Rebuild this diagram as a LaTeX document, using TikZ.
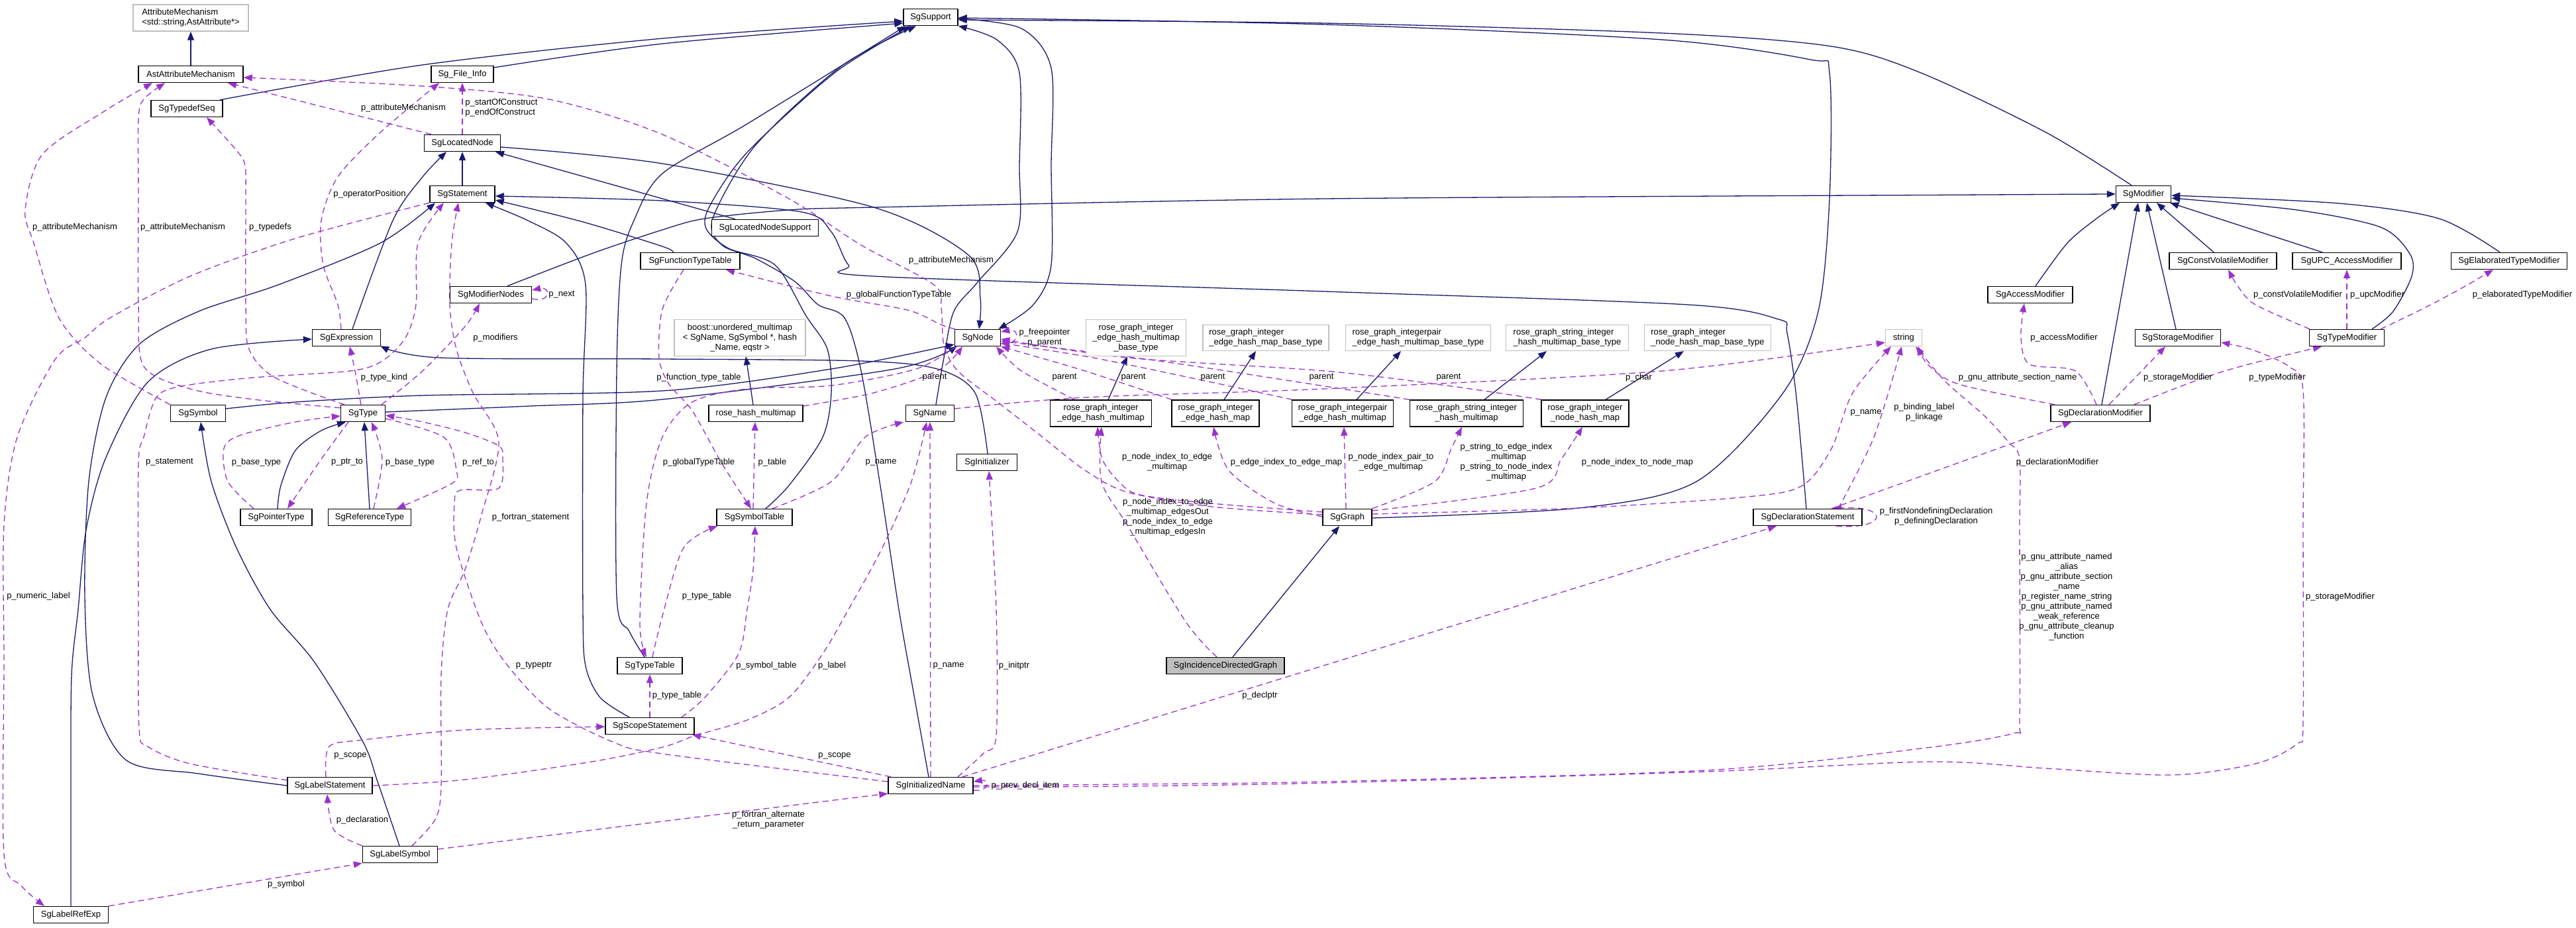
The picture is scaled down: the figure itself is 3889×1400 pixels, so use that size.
\documentclass[tikz,border=0pt]{standalone}
\usepackage{fontspec}
\setmainfont{Liberation Sans}
\usetikzlibrary{arrows.meta}
\definecolor{navyc}{HTML}{191970}
\definecolor{purp}{HTML}{9A32CD}
\definecolor{gborder}{HTML}{BFBFBF}
\newcommand\dxf{\fontsize{13}{15}\selectfont}
\pgfdeclarelayer{bg}
\pgfsetlayers{bg,main}
\begin{document}
\begin{tikzpicture}[x=1pt,y=-1pt,
  cls/.style={draw=black, line width=1.4pt, fill=white, inner sep=0pt, minimum height=25pt, font=\dxf, align=center},
  gcls/.style={cls, draw=gborder, line width=1.2pt},
  inh/.style={draw=navyc, line width=1.3pt, -{Triangle[length=13pt,width=10pt]}},
  use/.style={draw=purp, line width=1.3pt, dash pattern=on 9pt off 6pt, -{Triangle[length=13pt,width=10pt]}},
  lab/.style={font=\dxf, inner sep=0pt, align=center},
]
\useasboundingbox (0,0) rectangle (3889,1400);
% ---------------- nodes ----------------
\node[gcls, minimum width=174pt, minimum height=40pt, align=left] (am) at (288,27) {AttributeMechanism\\<std::string,AstAttribute*>};
\node[cls, minimum width=82pt] (sup) at (1405,26) {SgSupport};
\node[cls, minimum width=158pt] (aam) at (288,112) {AstAttributeMechanism};
\node[cls, minimum width=94pt] (sfi) at (698,112) {Sg\_File\_Info};
\node[cls, minimum width=108pt] (tds) at (282,164) {SgTypedefSeq};
\node[cls, minimum width=115pt] (ln) at (698,216) {SgLocatedNode};
\node[cls, minimum width=98pt] (stmt) at (698,293) {SgStatement};
\node[cls, minimum width=83pt] (mod) at (3236,293) {SgModifier};
\node[cls, minimum width=161pt] (lns) at (1155,344) {SgLocatedNodeSupport};
\node[cls, minimum width=150pt] (ftt) at (1042,394) {SgFunctionTypeTable};
\node[cls, minimum width=162pt] (cvm) at (3356,394) {SgConstVolatileModifier};
\node[cls, minimum width=164pt] (upc) at (3543,394) {SgUPC\_AccessModifier};
\node[cls, minimum width=175pt] (etm) at (3788,394) {SgElaboratedTypeModifier};
\node[cls, minimum width=123pt] (mn) at (741,445) {SgModifierNodes};
\node[cls, minimum width=128pt] (acc) at (3065,445) {SgAccessModifier};
\node[gcls, minimum width=198pt, minimum height=55pt] (boost) at (1117,510) {boost::unordered\_multimap\\< SgName, SgSymbol *, hash\\\_Name, eqstr >};
\node[gcls, minimum width=151pt, minimum height=55pt] (rb1) at (1715,510) {rose\_graph\_integer\\\_edge\_hash\_multimap\\\_base\_type};
\node[gcls, minimum width=190pt, minimum height=39pt, align=left] (rb2) at (1911,510) {rose\_graph\_integer\\\_edge\_hash\_map\_base\_type};
\node[gcls, minimum width=219pt, minimum height=39pt, align=left] (rb3) at (2141,510) {rose\_graph\_integerpair\\\_edge\_hash\_multimap\_base\_type};
\node[gcls, minimum width=185pt, minimum height=39pt, align=left] (rb4) at (2366,510) {rose\_graph\_string\_integer\\\_hash\_multimap\_base\_type};
\node[gcls, minimum width=191pt, minimum height=39pt, align=left] (rb5) at (2578,510) {rose\_graph\_integer\\\_node\_hash\_map\_base\_type};
\node[cls, minimum width=103pt] (expr) at (523,510) {SgExpression};
\node[cls, minimum width=69pt] (sgn) at (1476,510) {SgNode};
\node[gcls, minimum width=55pt] (str) at (2874,510) {string};
\node[cls, minimum width=129pt] (stor) at (3288,510) {SgStorageModifier};
\node[cls, minimum width=113pt] (tmod) at (3543,510) {SgTypeModifier};
\node[cls, minimum width=83pt] (sym) at (299,624) {SgSymbol};
\node[cls, minimum width=67pt] (typ) at (548,624) {SgType};
\node[cls, minimum width=142pt] (rhm) at (1141,624) {rose\_hash\_multimap};
\node[cls, minimum width=73pt] (nm) at (1404,624) {SgName};
\node[cls, minimum width=153pt, minimum height=40pt] (r1) at (1662,624) {rose\_graph\_integer\\\_edge\_hash\_multimap};
\node[cls, minimum width=132pt, minimum height=40pt] (r2) at (1835,624) {rose\_graph\_integer\\\_edge\_hash\_map};
\node[cls, minimum width=153pt, minimum height=40pt] (r3) at (2027,624) {rose\_graph\_integerpair\\\_edge\_hash\_multimap};
\node[cls, minimum width=171pt, minimum height=40pt] (r4) at (2214,624) {rose\_graph\_string\_integer\\\_hash\_multimap};
\node[cls, minimum width=132pt, minimum height=40pt] (r5) at (2393,624) {rose\_graph\_integer\\\_node\_hash\_map};
\node[cls, minimum width=150pt] (dmod) at (3171,624) {SgDeclarationModifier};
\node[cls, minimum width=91pt] (init) at (1490,698) {SgInitializer};
\node[cls, minimum width=108pt] (ptr) at (417,781) {SgPointerType};
\node[cls, minimum width=125pt] (ref) at (558,781) {SgReferenceType};
\node[cls, minimum width=114pt] (symt) at (1139,781) {SgSymbolTable};
\node[cls, minimum width=74pt] (graph) at (2034,781) {SgGraph};
\node[cls, minimum width=164pt] (ds) at (2729,781) {SgDeclarationStatement};
\node[cls, minimum width=98pt] (tt) at (981,1005) {SgTypeTable};
\node[cls, minimum width=178pt, fill=gborder] (idg) at (1850,1005) {SgIncidenceDirectedGraph};
\node[cls, minimum width=134pt] (ss) at (981,1096) {SgScopeStatement};
\node[cls, minimum width=128pt] (ls) at (498,1186) {SgLabelStatement};
\node[cls, minimum width=128pt] (iname) at (1405,1186) {SgInitializedName};
\node[cls, minimum width=113pt] (lsym) at (604,1290) {SgLabelSymbol};
\node[cls, minimum width=113pt] (lre) at (107,1381) {SgLabelRefExp};
% ---------------- edges ----------------
\begin{pgfonlayer}{bg}
\fill[white] (0,0) rectangle (3889,1400);
% inheritance
\draw[inh] (aam.north) -- (am.south);
\draw[inh] plot[smooth] coordinates {([xshift=50pt]tds.north) (638,98) (1000,58) ([yshift=-6pt]sup.west)};
\draw[inh] plot[smooth] coordinates {([yshift=10pt]sfi.east) (1000,66) ([yshift=-9pt]sup.west)};
\draw[inh] plot[smooth] coordinates {([yshift=-6pt]ln.east) (1000,247) (1319,313) (1462,385) (1480,450) ([xshift=2pt]sgn.north)};
\draw[inh] (stmt.north) -- (ln.south);
\draw[inh] plot[smooth] coordinates {([xshift=9pt]expr.north) (593,333) (638,267) ([xshift=-24pt]ln.south)};
\draw[inh] ([xshift=-45pt]lns.north) -- ([xshift=50pt]ln.south);
\draw[inh] plot[smooth] coordinates {([xshift=-31pt]ss.north) (906,1053) (884,1005) (880,920) (880,600) (884,430) (855,367) (797,333) ([xshift=35pt]stmt.south)};
\draw[inh] plot[smooth] coordinates {(ls.west) (300,1168) (191,1148) (140,1050) (128,900) (134,727) (160,600) (210,520) (300,470) (420,430) (574,367) ([xshift=-41pt]stmt.south)};
\draw[inh] plot[smooth] coordinates {([xshift=-2pt]ds.north) (2712,600) (2698,503) (2685,482) (2548,460) (2000,440) (1319,417) (1281,400) (1255,350) (1210,320) (1000,303) ([yshift=-3pt]stmt.east)};
\draw[inh] plot[smooth] coordinates {([yshift=7pt]sym.east) (446,607) (638,597) (1000,590) (1255,557) ([yshift=-10pt]sgn.west)};
\draw[inh] plot[smooth] coordinates {([yshift=2pt]typ.east) (800,613) (1000,603) (1351,557) ([xshift=4pt,yshift=1pt]sgn.south west)};
\draw[inh] plot[smooth] coordinates {([xshift=2pt]ptr.north) (424,733) (446,680) (485,650) ([xshift=-26pt]typ.south)};
\draw[inh] (ref.north) -- ([xshift=2pt]typ.south);
\draw[inh] plot[smooth] coordinates {([xshift=17pt]symt.north) (1191,733) (1242,660) (1255,593) (1249,527) (1217,477) (1170,400) (1100,375) (1066,345) (1072,310) (1128,230) (1260,110) ([xshift=-30pt]sup.south)};
\draw[inh] plot[smooth] coordinates {([xshift=-3pt]iname.north) (1380,1050) (1357,920) (1330,740) (1300,560) (1275,480) (1235,460) (1200,425) (1140,390) (1090,370) (1076,330) (1140,220) (1270,100) ([xshift=-22pt]sup.south)};
\draw[inh] plot[smooth] coordinates {([xshift=-8pt]tt.north) (950,953) (931,900) (931,560) (938,400) (957,333) (1000,262) (1128,187) ([xshift=4pt]sup.south west)};
\draw[inh] plot[smooth] coordinates {([xshift=9pt]nm.north) (1425,540) (1440,470) (1475,427) (1536,350) (1539,250) (1539,110) (1505,60) (sup.south east)};
\draw[inh] plot[smooth] coordinates {([yshift=-2pt]sup.east) (1542,43) (1587,103) (1587,250) (1587,400) (1560,460) ([xshift=-4pt]sgn.north east)};
\draw[inh] plot[smooth] coordinates {([yshift=-1pt]graph.east) (2383,767) (2561,727) (2692,593) (2745,470) (2762,300) (2762,110) (2733,90) (2510,60) (2000,37) ([yshift=-1pt]sup.east)};
\draw[inh] plot[smooth] coordinates {([xshift=-18pt]mod.north) (3089,200) (2900,110) (2765,70) (2510,50) (2000,35) ([yshift=-4pt]sup.east)};
\draw[inh] plot[smooth] coordinates {([xshift=25pt]mn.north) (893,383) (1000,347) (1064,330) (1191,317) (1319,313) (2000,300) (3000,294) (mod.west)};
\draw[inh] plot[smooth] coordinates {(lre.north) (107,1200) (108,1020) (118,920) (130,800) (159,693) (223,577) (319,527) ([yshift=-2pt]expr.west)};
\draw[inh] plot[smooth] coordinates {([xshift=1pt]init.north) (1472,593) (1415,557) (1300,545) (1000,542) (663,540) ([xshift=-1pt,yshift=1pt]expr.south east)};
\draw[inh] plot[smooth] coordinates {([xshift=-1pt]lsym.north) (570,1180) (548,1120) (475,1000) (408,920) (357,827) (319,727) ([xshift=4pt]sym.south)};
\draw[inh] ([xshift=-4pt]rhm.north) -- ([xshift=9pt]boost.south);
\draw[inh] ([xshift=11pt]r1.north) -- ([xshift=-13pt]rb1.south);
\draw[inh] ([xshift=13pt]r2.north) -- ([xshift=-15pt]rb2.south);
\draw[inh] ([xshift=21pt]r3.north) -- ([xshift=-26pt]rb3.south);
\draw[inh] ([xshift=27pt]r4.north) -- ([xshift=-31pt]rb4.south);
\draw[inh] ([xshift=31pt]r5.north) -- ([xshift=-36pt]rb5.south);
\draw[inh] ([xshift=11pt]idg.north) -- ([xshift=-12pt]graph.south);
\draw[inh] plot[smooth] coordinates {([xshift=8pt]acc.north) (3121,367) (3165,330) ([xshift=-36pt]mod.south)};
\draw[inh] ([xshift=2pt]dmod.north) -- ([xshift=-8pt]mod.south);
\draw[inh] ([xshift=-3pt]stor.north) -- ([xshift=5pt]mod.south);
\draw[inh] ([xshift=-14pt]cvm.north) -- ([xshift=20pt]mod.south);
\draw[inh] ([xshift=-37pt]upc.north) -- ([xshift=-2pt]mod.south east);
\draw[inh] plot[smooth] coordinates {([xshift=38pt]tmod.north) (3613,470) (3641,417) (3638,383) (3594,343) (3468,317) ([yshift=-6pt]mod.east)};
\draw[inh] plot[smooth] coordinates {([xshift=-14pt]etm.north) (3682,330) (3531,307) ([yshift=-2pt]mod.east)};
\draw[inh] plot[smooth] coordinates {([xshift=-26pt]ftt.north) (1000,372) (880,335) ([yshift=-9pt]stmt.east)};
% usage (dashed)
\draw[use] plot[smooth] coordinates {([xshift=-47pt]ln.north) (510,167) ([xshift=56pt]aam.south)};
\draw[use] plot[smooth] coordinates {([yshift=4pt]graph.west) (1830,765) (1702,743) (1638,710) (1574,660) (1510,610) (1446,560) (1425,520) (1421,465) (1410,430) (1300,370) (1191,300) (1000,203) (829,150) (638,130) ([yshift=-5pt]aam.east)};
\draw[use] plot[smooth] coordinates {(sym.north west) (153,550) (89,480) (51,367) (38,317) (64,233) (159,167) ([xshift=-58pt]aam.south)};
\draw[use] plot[smooth] coordinates {([yshift=-5pt]typ.north west) (383,603) (287,587) (217,553) (209,460) (209,300) (209,180) (217,150) ([xshift=-39pt]aam.south)};
\draw[use] plot[smooth] coordinates {([xshift=-28pt]typ.north) (415,570) (376,527) (371,460) (371,300) (370,250) (357,227) ([xshift=30pt]tds.south)};
\draw[use] plot[smooth] coordinates {([xshift=-8pt]expr.north) (510,460) (488,400) (485,333) (510,267) (574,200) ([xshift=-35pt]sfi.south)};
\draw[use] (ln.north) -- (sfi.south);
\draw[use] plot[smooth] coordinates {([xshift=-3pt]typ.north) (536,560) ([xshift=5pt]expr.south)};
\draw[use] plot[smooth] coordinates {([xshift=28pt]typ.north) (638,560) (702,493) ([xshift=-17pt]mn.south)};
\draw[use] ([yshift=-6pt]mn.east) .. controls (832,458) and (832,432) .. ([yshift=7pt]mn.east);
\draw[use] plot[smooth] coordinates {([yshift=-5pt]ls.north west) (287,1153) (223,1127) (210,1100) (209,920) (209,700) (217,660) (236,600) (274,583) (383,570) (529,560) (577,545) (612,510) (628,460) (631,367) ([xshift=-28pt]stmt.south)};
\draw[use] plot[smooth] coordinates {([xshift=18pt]lsym.north) (657,1237) (666,1187) (666,1020) (676,920) (702,860) (727,777) (753,667) (714,593) (689,527) (679,460) (682,367) ([xshift=-6pt]stmt.south)};
\draw[use] plot[smooth] coordinates {(stmt.south west) (446,360) (287,417) (166,480) (128,510) (83,543) (26,660) (6,793) (6,1000) (6,1290) (32,1337) ([xshift=-40pt]lre.north)};
\draw[use] plot[smooth] coordinates {([xshift=-34pt]ptr.north) (344,727) (338,677) (363,657) (446,637) ([yshift=-4pt]typ.west)};
\draw[use] plot[smooth] coordinates {([xshift=-22pt]typ.south) (485,693) ([xshift=17pt]ptr.north)};
\draw[use] plot[smooth] coordinates {([xshift=6pt]ref.north) (577,693) ([xshift=13pt]typ.south)};
\draw[use] plot[smooth] coordinates {([yshift=-8pt]typ.east) (670,660) (689,710) (682,730) ([xshift=41pt]ref.north)};
\draw[use] plot[smooth] coordinates {([yshift=6pt]iname.west) (1000,1138) (925,1120) (829,1070) (765,1003) (727,940) (689,827) (686,760) (695,740) (753,737) (759,693) (753,673) (702,653) (638,637) ([yshift=-3pt]typ.east)};
\draw[use] ([xshift=-2pt]symt.north) -- ([xshift=-1pt]rhm.south);
\draw[use] plot[smooth] coordinates {([xshift=27pt]symt.north) (1255,727) (1306,660) ([xshift=-40pt]nm.south)};
\draw[use] plot[smooth] coordinates {([yshift=11pt]rhm.east) (1319,593) (1415,560) ([xshift=-23pt]sgn.south)};
\draw[use] plot[smooth] coordinates {([xshift=-40pt]r1.north) (1542,560) ([xshift=28pt]sgn.south)};
\draw[use] plot[smooth] coordinates {([xshift=-66pt]r2.north) (1638,560) (sgn.south east)};
\draw[use] plot[smooth] coordinates {([xshift=-76pt]r3.north) (1829,577) (1650,540) ([yshift=-8pt]sgn.east)};
\draw[use] plot[smooth] coordinates {([xshift=-86pt]r4.north) (2000,583) (1750,545) ([yshift=-5pt]sgn.east)};
\draw[use] plot[smooth] coordinates {([xshift=-66pt]r5.north) (2191,583) (2000,560) (1702,540) ([yshift=-2pt]sgn.east)};
\draw[use] ([yshift=-9pt]sgn.east) .. controls (1540,522) and (1540,495) .. ([yshift=9pt]sgn.east);
\draw[use] plot[smooth] coordinates {([xshift=-34pt]sgn.north) (1420,490) (1370,468) (1255,447) ([xshift=54pt]ftt.south)};
\draw[use] plot[smooth] coordinates {([xshift=2pt]sgn.south west) (1383,557) (1255,582) (1128,587) (1045,607) (1000,660) (976,760) (966,940) ([xshift=-5pt]tt.north)};
\draw[use] plot[smooth] coordinates {([xshift=-10pt]ftt.south) (1000,467) (995,540) (1010,580) (1045,620) (1090,700) ([xshift=-5pt]symt.north)};
\draw[use] plot[smooth] coordinates {([xshift=4pt]tt.north) (1000,930) (1032,827) ([xshift=-56pt]symt.south)};
\draw[use] (ss.north) -- (tt.south);
\draw[use] plot[smooth] coordinates {([xshift=48pt]ss.north) (1064,1053) (1115,987) (1128,920) (1137,860) ([xshift=1pt]symt.south)};
\draw[use] plot[smooth] coordinates {(ls.east) (702,1177) (893,1150) (1000,1128) (1051,1110) (1128,1087) (1191,1053) (1242,987) (1281,920) (1332,827) (1376,727) ([xshift=-5pt]nm.south)};
\draw[use] (iname.north) -- (nm.south);
\draw[use] plot[smooth] coordinates {([xshift=41pt]iname.north) (1485,1137) (1504,1110) (1504,920) ([xshift=3pt]init.south)};
\draw[use] ([xshift=-60pt]iname.north) -- ([xshift=64pt]ss.south);
\draw[use] ([xshift=48pt]iname.north) -- ([xshift=-47pt]ds.south);
\draw[use] ([yshift=-7pt]iname.east) .. controls (1494,1196) and (1494,1176) .. ([yshift=6pt]iname.east);
\draw[use] plot[smooth] coordinates {(iname.east) (1700,1184) (2000,1180) (2574,1163) (2900,1130) (3040,1107) (3049,1085) (3049,800) (3049,693) (3032,667) (2995,627) (2938,577) ([xshift=-10pt]str.south east)};
\draw[use] plot[smooth] coordinates {([yshift=-2pt]iname.east) (1700,1187) (2000,1182) (2574,1165) (2912,1150) (3089,1160) (3278,1170) (3405,1153) (3468,1123) (3477,1090) (3477,800) (3477,590) (3455,553) (3400,528) ([yshift=-7pt]stor.east)};
\draw[use] plot[smooth] coordinates {([xshift=-6pt]dmod.north) (3133,560) (3064,550) (3051,510) ([xshift=-9pt]acc.south)};
\draw[use] plot[smooth] coordinates {([xshift=-69pt]dmod.north) (2957,580) (2910,550) ([xshift=-6pt]str.south east)};
\draw[use] ([xshift=13pt]dmod.north) -- ([xshift=-19pt]stor.south);
\draw[use] ([xshift=51pt]dmod.north) .. controls (3350,560) .. ([xshift=-38pt]tmod.south);
\draw[use] plot[smooth] coordinates {([xshift=-56pt]tmod.north) (3405,460) (3379,433) ([xshift=8pt]cvm.south)};
\draw[use] (tmod.north) -- (upc.south);
\draw[use] plot[smooth] coordinates {([xshift=51pt]tmod.north) (3660,465) (3720,433) ([xshift=-24pt]etm.south)};
\draw[use] ([xshift=36pt]ds.north) -- ([xshift=-44pt]dmod.south);
\draw[use] plot[smooth] coordinates {([yshift=5pt]graph.east) (2383,767) (2638,750) (2721,733) (2765,677) (2797,593) ([xshift=-19pt]str.south)};
\draw[use] plot[smooth] coordinates {([xshift=46pt]ds.north) (2829,660) ([xshift=-3pt]str.south)};
\draw[use] ([xshift=43pt]ds.south) .. controls (2852,800) and (2852,762) .. ([xshift=38pt]ds.north);
\draw[use] plot[smooth] coordinates {([yshift=7pt]nm.east) (1638,600) (2000,587) (2510,560) ([yshift=-7pt]str.west)};
\draw[use] plot[smooth] coordinates {([yshift=8pt]graph.west) (1829,760) (1721,747) (1689,727) (1664,693) ([xshift=-5pt]r1.south)};
\draw[use] plot[smooth] coordinates {([xshift=-13pt]idg.north) (1791,940) (1702,793) (1663,727) ([xshift=1pt]r1.south)};
\draw[use] plot[smooth] coordinates {([yshift=1pt]graph.west) (1925,760) (1855,710) ([xshift=-3pt]r2.south)};
\draw[use] ([xshift=-2pt]graph.north) -- ([xshift=2pt]r3.south);
\draw[use] plot[smooth] coordinates {(graph.north east) (2166,727) (2191,677) ([xshift=-7pt]r4.south)};
\draw[use] plot[smooth] coordinates {([yshift=10pt]graph.east) (2319,737) (2357,693) ([xshift=-4pt]r5.south)};
\draw[use] plot[smooth] coordinates {([xshift=-6pt]ls.north) (497,1127) (548,1117) (702,1102) ([yshift=-1pt]ss.west)};
\draw[use] plot[smooth] coordinates {(lsym.north west) (504,1253) ([xshift=-4pt]ls.south)};
\draw[use] (lre.north east) -- (lsym.south west);
\draw[use] plot[smooth] coordinates {([yshift=8pt]lsym.east) (1000,1240) ([yshift=-12pt]iname.west)};
\end{pgfonlayer}
% ---------------- labels ----------------
\node[lab] (lb1) at (609,163) {p\_attributeMechanism};
\node[lab, align=left] (lb2) at (757,163) {p\_startOfConstruct\\p\_endOfConstruct};
\node[lab] (lb3) at (113,343) {p\_attributeMechanism};
\node[lab] (lb4) at (276,343) {p\_attributeMechanism};
\node[lab] (lb5) at (408,343) {p\_typedefs};
\node[lab] (lb6) at (558,293) {p\_operatorPosition};
\node[lab] (lb7) at (1436,393) {p\_attributeMechanism};
\node[lab] (lb8) at (1357,445) {p\_globalFunctionTypeTable};
\node[lab] (lb9) at (848,445) {p\_next};
\node[lab] (lb10) at (748,510) {p\_modifiers};
\node[lab] (lb11) at (1577,510) {p\_freepointer\\p\_parent};
\node[lab] (lb12) at (580,570) {p\_type\_kind};
\node[lab] (lb13) at (1055,570) {p\_function\_type\_table};
\node[lab] (lb14) at (1411,570) {parent};
\node[lab] (lb15) at (1607,570) {parent};
\node[lab] (lb16) at (1711,570) {parent};
\node[lab] (lb17) at (1831,570) {parent};
\node[lab] (lb18) at (1995,570) {parent};
\node[lab] (lb19) at (2187,570) {parent};
\node[lab] (lb20) at (2474,570) {p\_char};
\node[lab] (lb21) at (3046,570) {p\_gnu\_attribute\_section\_name};
\node[lab] (lb22) at (3288,570) {p\_storageModifier};
\node[lab] (lb23) at (3438,570) {p\_typeModifier};
\node[lab] (lb24) at (3116,510) {p\_accessModifier};
\node[lab] (lb25) at (3469,445) {p\_constVolatileModifier};
\node[lab] (lb26) at (3589,445) {p\_upcModifier};
\node[lab] (lb27) at (3808,445) {p\_elaboratedTypeModifier};
\node[lab] (lb28) at (2817,623) {p\_name};
\node[lab] (lb29) at (2905,623) {p\_binding\_label\\p\_linkage};
\node[lab] (lb30) at (256,698) {p\_statement};
\node[lab] (lb31) at (387,698) {p\_base\_type};
\node[lab] (lb32) at (524,698) {p\_ptr\_to};
\node[lab] (lb33) at (619,698) {p\_base\_type};
\node[lab] (lb34) at (722,698) {p\_ref\_to};
\node[lab] (lb35) at (1055,698) {p\_globalTypeTable};
\node[lab] (lb36) at (1166,698) {p\_table};
\node[lab] (lb37) at (1330,698) {p\_name};
\node[lab] (lb38) at (1762,698) {p\_node\_index\_to\_edge\\\_multimap};
\node[lab] (lb39) at (1942,698) {p\_edge\_index\_to\_edge\_map};
\node[lab] (lb40) at (2100,698) {p\_node\_index\_pair\_to\\\_edge\_multimap};
\node[lab] (lb41) at (2274,698) {p\_string\_to\_edge\_index\\\_multimap\\p\_string\_to\_node\_index\\\_multimap};
\node[lab] (lb42) at (2472,698) {p\_node\_index\_to\_node\_map};
\node[lab] (lb43) at (3106,698) {p\_declarationModifier};
\node[lab] (lb44) at (2923,780) {p\_firstNondefiningDeclaration\\p\_definingDeclaration};
\node[lab] (lb45) at (1763,781) {p\_node\_index\_to\_edge\\\_multimap\_edgesOut\\p\_node\_index\_to\_edge\\\_multimap\_edgesIn};
\node[lab] (lb46) at (801,781) {p\_fortran\_statement};
\node[lab] (lb47) at (58,900) {p\_numeric\_label};
\node[lab] (lb48) at (1067,900) {p\_type\_table};
\node[lab] (lb49) at (3120,901) {p\_gnu\_attribute\_named\\\_alias\\p\_gnu\_attribute\_section\\\_name\\p\_register\_name\_string\\p\_gnu\_attribute\_named\\\_weak\_reference\\p\_gnu\_attribute\_cleanup\\\_function};
\node[lab] (lb50) at (3533,901) {p\_storageModifier};
\node[lab] (lb51) at (806,1005) {p\_typeptr};
\node[lab] (lb52) at (1157,1005) {p\_symbol\_table};
\node[lab] (lb53) at (1256,1005) {p\_label};
\node[lab] (lb54) at (1432,1005) {p\_name};
\node[lab] (lb55) at (1531,1005) {p\_initptr};
\node[lab] (lb56) at (1022,1050) {p\_type\_table};
\node[lab] (lb57) at (1902,1050) {p\_declptr};
\node[lab] (lb58) at (529,1141) {p\_scope};
\node[lab] (lb59) at (1260,1141) {p\_scope};
\node[lab] (lb60) at (1548,1186) {p\_prev\_decl\_item};
\node[lab] (lb61) at (547,1238) {p\_declaration};
\node[lab] (lb62) at (1160,1238) {p\_fortran\_alternate\\\_return\_parameter};
\node[lab] (lb63) at (432,1335) {p\_symbol};
\end{tikzpicture}
\end{document}
